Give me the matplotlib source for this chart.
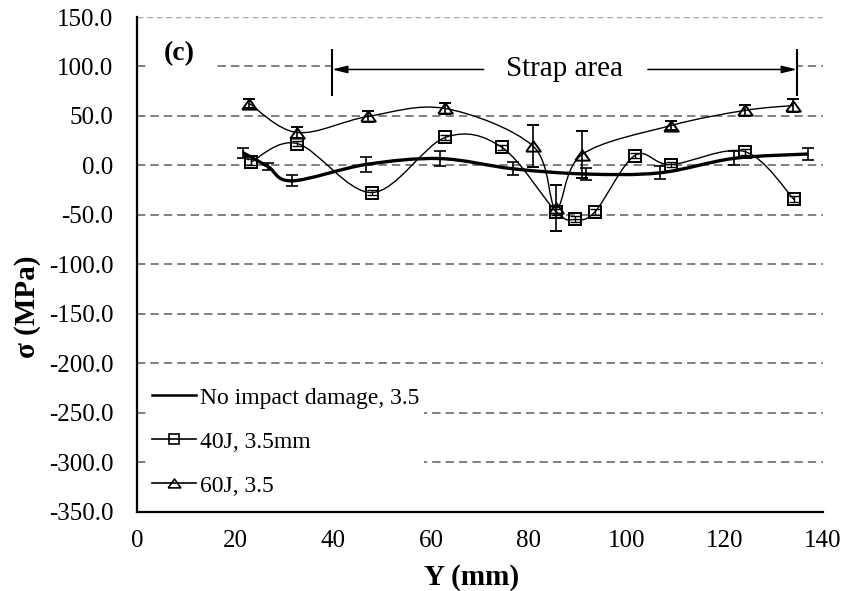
import numpy as np
import matplotlib
matplotlib.use("Agg")
import matplotlib.pyplot as plt
from matplotlib.path import Path
from matplotlib.patches import PathPatch, Rectangle
from matplotlib.lines import Line2D
from matplotlib.ticker import FormatStrFormatter

plt.rcParams['font.family'] = ['Liberation Serif', 'DejaVu Serif']

# ── Data ──
y_none = [21.6, 26.7, 31.6, 46.7, 61.8, 76.7, 91.6, 106.7, 121.8, 136.9]
s_none = [13.0, -1.0, -15.5, 1.0, 7.0, -3.3, -8.6, -7.4, 7.2, 11.6]
e_none = [5.0, 4.0, 5.5, 7.5, 7.5, 6.7, 6.2, 6.7, 7.2, 6.2]

y_40j = [23.2, 32.7, 48.0, 62.9, 74.5, 85.5, 89.4, 93.5, 101.6, 109.0, 124.0, 134.1]
s_40j = [3.3, 22.2, -27.3, 28.3, 18.2, -46.5, -54.5, -46.5, 10.1, 1.0, 14.1, -34.3]
e_40j = [3.0, 3.0, 3.0, 3.0, 3.0, 3.0, 3.0, 3.0, 3.0, 3.0, 3.0, 3.0]

y_60j = [22.9, 32.7, 47.1, 62.9, 80.8, 85.5, 90.8, 109.0, 124.0, 133.9]
s_60j = [62.6, 33.3, 49.5, 57.6, 19.7, -43.0, 11.0, 40.4, 55.6, 60.6]
e_60j = [5.0, 6.0, 6.0, 6.0, 21.7, 23.0, 24.0, 5.0, 6.0, 7.0]

labels = ["No impact damage, 3.5", "40J, 3.5mm", "60J, 3.5"]

STRAP_START = 39.8
STRAP_END = 134.7

# flat, wide triangle like the Excel marker
TRI = [(-1, -0.7), (1, -0.7), (0, 0.72), (-1, -0.7)]


def smooth_path(x, y):
    # Excel-style smoothed line: Catmull-Rom segments as cubic Beziers
    pts = np.column_stack([x, y]).astype(float)
    n = len(pts)
    verts = [pts[0]]
    codes = [Path.MOVETO]
    for i in range(n - 1):
        p0 = pts[max(i - 1, 0)]
        p1 = pts[i]
        p2 = pts[i + 1]
        p3 = pts[min(i + 2, n - 1)]
        verts += [p1 + (p2 - p0) / 6.0, p2 - (p3 - p1) / 6.0, p2]
        codes += [Path.CURVE4] * 3
    return Path(verts, codes)


fig = plt.figure(figsize=(8.45, 5.91), dpi=100)
ax = fig.add_axes([137 / 845, 1 - 512 / 591, 686 / 845, 495 / 591])

ax.set_xlim(0, 140)
ax.set_ylim(-350, 150)
ax.set_xticks(np.arange(0, 141, 20))
ax.set_yticks(np.arange(-350, 151, 50))
ax.yaxis.set_major_formatter(FormatStrFormatter('%.1f'))
ax.tick_params(axis='both', length=0, labelsize=18)
ax.tick_params(axis='y', pad=17)
ax.tick_params(axis='x', pad=13)

for side in ['top', 'right']:
    ax.spines[side].set_visible(False)
for side in ['left', 'bottom']:
    ax.spines[side].set_linewidth(1.6)
    ax.spines[side].set_zorder(6)

ax.set_axisbelow(True)
ax.yaxis.grid(True, color='#808080', lw=1.4, ls=(0, (4.3, 2.6)))
ax.xaxis.grid(False)
top_grid = ax.get_ygridlines()[-1]
top_grid.set_color('#a8a8a8')
top_grid.set_linewidth(1.0)

# smoothed curves
ax.add_patch(PathPatch(smooth_path(y_none, s_none), fc='none', ec='k', lw=2.4, zorder=3))
ax.add_patch(PathPatch(smooth_path(y_40j, s_40j), fc='none', ec='k', lw=1.0, zorder=3))
ax.add_patch(PathPatch(smooth_path(y_60j, s_60j), fc='none', ec='k', lw=1.0, zorder=3))

ax.errorbar(y_none, s_none, yerr=e_none, fmt='none', ecolor='k', elinewidth=1.2,
            capsize=4, capthick=1.2, zorder=4)
ax.errorbar(y_40j, s_40j, yerr=e_40j, fmt='none', ecolor='k', elinewidth=1.0,
            capsize=3.5, capthick=1.0, zorder=4)
ax.errorbar(y_60j, s_60j, yerr=e_60j, fmt='none', ecolor='k', elinewidth=1.2,
            capsize=4.5, capthick=1.4, zorder=4)

ax.plot(y_40j, s_40j, ls='none', marker='s', ms=8.5, mfc='none', mec='k', mew=1.4, zorder=5)
ax.plot(y_60j, s_60j, ls='none', marker=TRI, ms=10.5, mfc='none', mec='k', mew=1.4, zorder=5)

# strap area annotation
ax.add_patch(Rectangle((STRAP_START, 91), STRAP_END - STRAP_START, 14,
                       fc='white', ec='none', zorder=1))
ax.vlines([STRAP_START, STRAP_END], 70, 118, colors='k', lw=1.5, zorder=3)
mid = (STRAP_START + STRAP_END) / 2
ax.text(mid, 97, "Strap area", fontsize=21, ha='center', va='center', zorder=3)
arrow = dict(arrowstyle='-|>,head_length=0.9,head_width=0.22', color='k', lw=1.1,
             shrinkA=0, shrinkB=0)
ax.annotate('', xy=(STRAP_START, 97), xytext=(mid - 16.5, 97), arrowprops=arrow, zorder=3)
ax.annotate('', xy=(STRAP_END, 97), xytext=(mid + 17, 97), arrowprops=arrow, zorder=3)

ax.text(8.6, 113, "(c)", fontsize=20, fontweight='bold', ha='center', va='center',
        bbox=dict(fc='white', ec='none', pad=13), zorder=3)

ax.set_xlabel("Y (mm)", fontsize=21, fontweight='bold')
ax.set_ylabel("σ (MPa)", fontsize=21, fontweight='bold')
ax.xaxis.set_label_coords(0.488, -0.105)
ax.yaxis.set_label_coords(-0.14, 0.414)

handles = [
    Line2D([], [], color='k', lw=1.8),
    Line2D([], [], color='k', lw=1.2, marker='s', ms=7.5, mfc='none', mec='k', mew=1.2),
    Line2D([], [], color='k', lw=1.2, marker=TRI, ms=9, mfc='none', mec='k', mew=1.2),
]
leg = ax.legend(handles, labels, loc='lower left', fontsize=17, frameon=True,
                fancybox=False, facecolor='white', edgecolor='none', framealpha=1,
                borderpad=0.2, borderaxespad=0.45, handlelength=1.85,
                handletextpad=0.15, labelspacing=0.95, numpoints=1)
leg.set_zorder(5)

fig.savefig("out.png", dpi=100)
